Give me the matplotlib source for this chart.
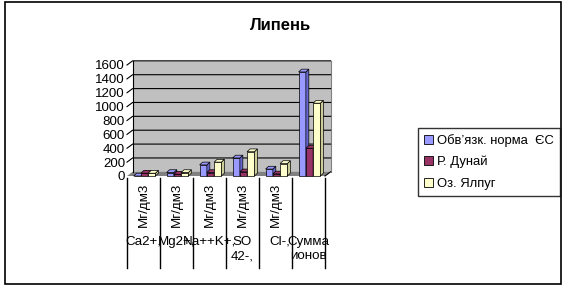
import matplotlib.pyplot as plt
from matplotlib.patches import Polygon, Patch, Rectangle

plt.rcParams['font.family'] = ['Liberation Sans', 'DejaVu Sans']

# data
categories = ["Ca2+,", "Mg2+,", "Na++K+,", "SO\n42-,", "Cl-,", "Сумма\nионов"]
units = ["Мг/дм3", "Мг/дм3", "Мг/дм3", "Мг/дм3", "Мг/дм3", ""]
series = ["Обв’язк. норма  ЄС", "Р. Дунай", "Оз. Ялпуг"]
norma_eu = [0, 50, 160, 260, 100, 1500]
dunai = [40, 25, 50, 60, 30, 400]
yalpug = [40, 50, 200, 350, 180, 1050]
yticks = [0, 200, 400, 600, 800, 1000, 1200, 1400, 1600]

front = ["#9999FF", "#993366", "#FFFFCC"]
side = ["#6666CC", "#66223F", "#CCCC99"]

fig = plt.figure(figsize=(5.64, 2.87), dpi=100)
fig.patches.append(Rectangle((5 / 564, 3 / 287), 556 / 564, 282 / 287, transform=fig.transFigure,
                             fill=False, edgecolor="black", linewidth=1.2))

ax = fig.add_axes([127 / 564, 111 / 287, 198 / 564, 111 / 287])
ax.set_xlim(0, 6)
ax.set_ylim(0, 1600)
ax.axis('off')

dx, dy = 0.17, 60      # wall depth
bdx, bdy = 0.09, 40    # bar depth
n = len(categories)

# back wall and floor
ax.add_patch(Polygon([(dx, dy), (n + dx, dy), (n + dx, 1600 + dy), (dx, 1600 + dy)],
                     closed=True, facecolor="#C0C0C0", edgecolor="none", clip_on=False, zorder=0))
ax.add_patch(Polygon([(0, 0), (n, 0), (n + dx, dy), (dx, dy)], closed=True,
                     facecolor="#808080", edgecolor="none", clip_on=False, zorder=1))
ax.plot([dx, dx], [dy, 1600 + dy], color="black", lw=0.8, clip_on=False, zorder=1)
ax.plot([n + dx, n + dx], [dy, 1600 + dy], color="#808080", lw=0.8, clip_on=False, zorder=1)
ax.plot([n, n + dx], [0, dy], color="black", lw=0.8, clip_on=False, zorder=1)
for t in yticks[1:]:
    ax.plot([0, dx, n + dx], [t, t + dy, t + dy], color="black", lw=0.8, clip_on=False, zorder=1)
for t in yticks:
    ax.text(-0.06, t - 20, str(t), ha="right", va="center", fontsize=9.6)

# bars
w = 0.22
for i in range(n):
    for k, vals in enumerate([norma_eu, dunai, yalpug]):
        v = vals[i]
        x0 = i + 0.2 + k * w
        z = 2 + i * 3 + k
        ax.add_patch(Polygon([(x0, 0), (x0 + w, 0), (x0 + w, v), (x0, v)], closed=True,
                             facecolor=front[k], edgecolor="black", lw=0.5, clip_on=False, zorder=z))
        ax.add_patch(Polygon([(x0 + w, 0), (x0 + w + bdx, bdy), (x0 + w + bdx, v + bdy), (x0 + w, v)],
                             closed=True, facecolor=side[k], edgecolor="black", lw=0.5, clip_on=False, zorder=z))
        ax.add_patch(Polygon([(x0, v), (x0 + w, v), (x0 + w + bdx, v + bdy), (x0 + bdx, v + bdy)],
                             closed=True, facecolor=front[k], edgecolor="black", lw=0.5, clip_on=False, zorder=z))

# category table
for i in range(n + 1):
    ax.plot([i, i], [-30, -1325], color="black", lw=1, clip_on=False)
for i in range(n):
    if units[i]:
        ax.text(i + 0.5, -100, units[i], rotation=90, ha="center", va="top", fontsize=9.6)
    xc = i + 0.5 + (0.12 if i == 4 else 0)
    ax.text(xc, -860, categories[i], ha="center", va="top", fontsize=9.6, linespacing=1.3)

fig.text(281 / 564, 1 - 25 / 287, "Липень", ha="center", va="center", fontsize=12, fontweight="bold")

handles = [Patch(facecolor=c, edgecolor="black", linewidth=0.6) for c in front]
leg = fig.legend(handles, series, loc="upper left", bbox_to_anchor=(418 / 564, 1 - 128 / 287),
                 fontsize=9.4, frameon=True, fancybox=False, handlelength=0.7, handleheight=0.7,
                 handletextpad=0.3, labelspacing=0.7, borderpad=0.45, borderaxespad=0)
leg.get_frame().set_edgecolor("black")
leg.get_frame().set_linewidth(1)

fig.savefig("out.png", dpi=100)
